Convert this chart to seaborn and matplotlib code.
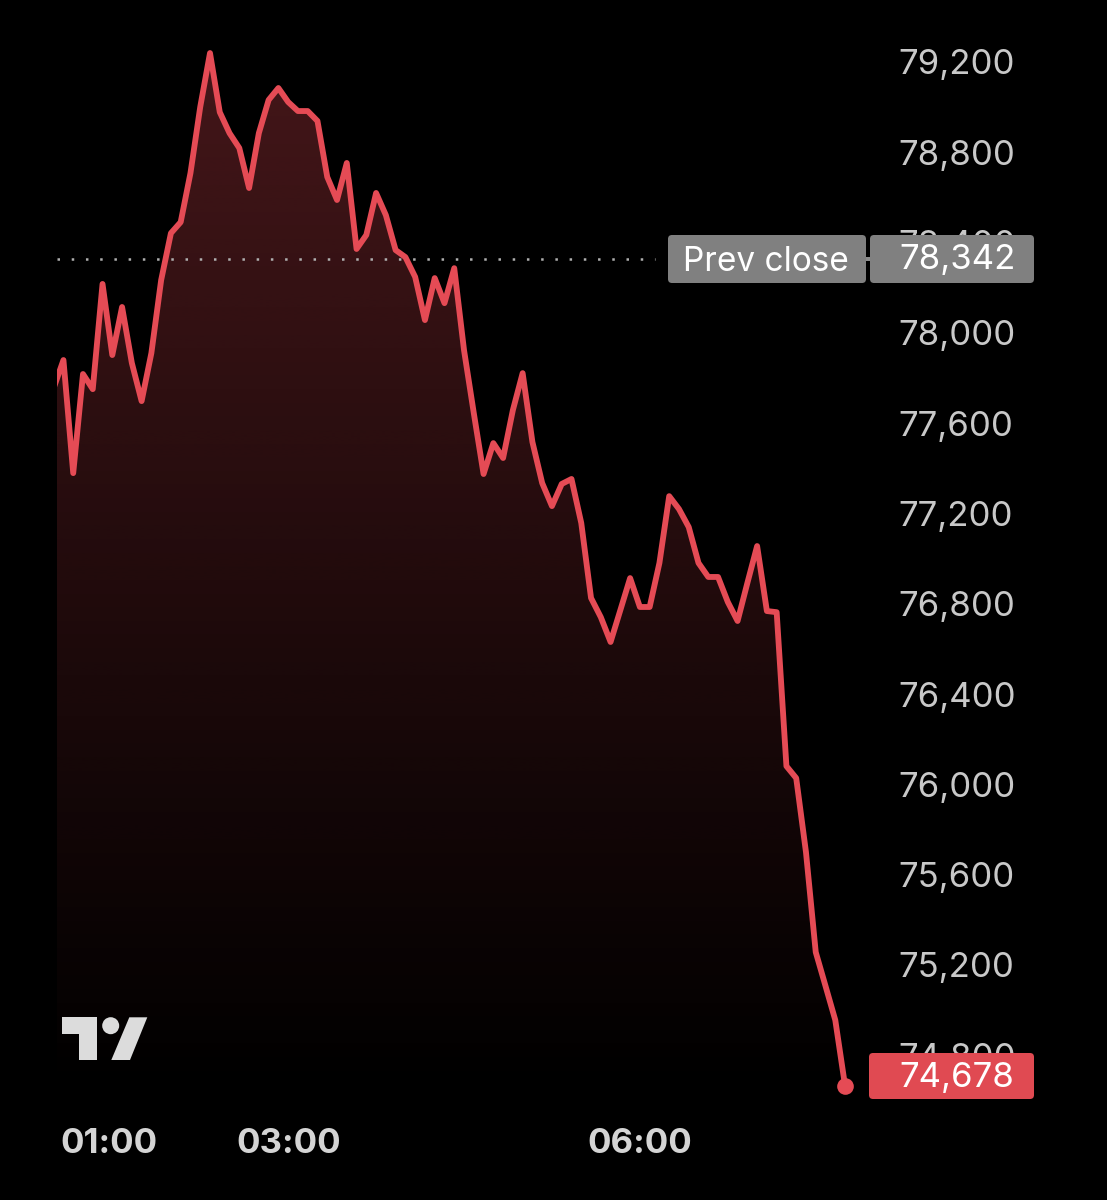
import numpy as np
import pandas as pd
import matplotlib
matplotlib.use("Agg")
import matplotlib.pyplot as plt
import seaborn as sns
from matplotlib.patches import Circle, FancyBboxPatch, Polygon, Rectangle
from matplotlib.transforms import Affine2D, ScaledTranslation

# Prices, one per bar of the session
prices = [
    77769, 77893, 77392, 77831, 77764, 78230, 77915, 78128, 77880, 77711,
    77924, 78247, 78455, 78504, 78721, 79014, 79253, 78991, 78898, 78832,
    78655, 78898, 79045, 79098, 79036, 78996, 78996, 78952, 78704, 78602,
    78766, 78385, 78447, 78633, 78535, 78380, 78349, 78261, 78070, 78256,
    78145, 78300, 77937, 77658, 77388, 77525, 77459, 77671, 77835, 77530,
    77348, 77246, 77344, 77366, 77171, 76839, 76754, 76644, 76785, 76927,
    76799, 76799, 76994, 77290, 77233, 77153, 76994, 76932, 76932, 76821,
    76737, 76905, 77069, 76781, 76776, 76094, 76041, 75713, 75270, 75120,
    74969, 74678,
]
y_ticks = [79200, 78800, 78400, 78000, 77600, 77200, 76800, 76400, 76000, 75600, 75200, 74800]
x_tick_pos = [5.66, 24.1, 60.0]
x_tick_labels = ["01:00", "03:00", "06:00"]
prev_close = 78342
last_price = 74678

RED = "#e54b55"
W, H = 1107, 1200

sns.set_style("dark", rc={"axes.facecolor": "black", "figure.facecolor": "black"})
plt.rcParams["font.family"] = ["Inter", "DejaVu Sans"]

df = pd.DataFrame({"bar": np.arange(len(prices)), "price": prices})

fig = plt.figure(figsize=(W / 100, H / 100), dpi=100)
# axes box in pixels: x 57-860, y 30-1100
ax = fig.add_axes([57 / W, 1 - 1100 / H, 803 / W, 1070 / H])
ax.set_xlim(0.34, 82.53)
ax.set_ylim(74615, 79355)

# gradient under the line, clipped to the area polygon
area = ax.fill_between(df["bar"], df["price"], 74615, color="none", lw=0)
grad = np.zeros((256, 1, 4))
grad[..., :3] = matplotlib.colors.to_rgb(RED)
grad[..., 3] = np.linspace(0.30, 0.0, 256)[:, None]
img = ax.imshow(grad, aspect="auto", origin="upper", zorder=1,
                extent=[0, 82, 74615, 79253], interpolation="bilinear")
img.set_clip_path(area.get_paths()[0], ax.transData)
ax.set_xlim(0.34, 82.53)
ax.set_ylim(74615, 79355)

# previous close dots
ax.plot([0.34, 61.5], [prev_close, prev_close], color="#b0b0b0", lw=1.8,
        linestyle=(0, (1, 4.69)), zorder=2)

sns.lineplot(data=df, x="bar", y="price", ax=ax, color=RED, lw=4.2, zorder=3,
             solid_joinstyle="round", solid_capstyle="round")
ax.plot(df["bar"].iloc[-1], df["price"].iloc[-1], "o", color=RED, ms=12, mew=0,
        zorder=4, clip_on=False)

ax.set_xlabel("")
ax.set_ylabel("")
ax.grid(False)
for s in ax.spines.values():
    s.set_visible(False)

ax.yaxis.tick_right()
ax.set_yticks(y_ticks)
ax.set_yticklabels([f"{v:,}" for v in y_ticks], fontsize=25, color="#c8c8c8")
ax.tick_params(axis="y", length=0, pad=27.5)
# labels sit a little above their true level in the original
up = ScaledTranslation(0, 3 / 100, fig.dpi_scale_trans)
for lab in ax.get_yticklabels():
    lab.set_transform(lab.get_transform() + up)

ax.set_xticks(x_tick_pos)
ax.set_xticklabels(x_tick_labels, fontsize=25, color="#d4d4d4", fontweight="bold")
ax.tick_params(axis="x", length=0, pad=20)

# pill labels and logo, placed in pixels from the top-left corner
px = Affine2D().scale(1, -1).translate(0, H)


def pill(x0, y0, x1, y1, color):
    fig.add_artist(FancyBboxPatch((x0 + 3, y0 + 3), x1 - x0 - 6, y1 - y0 - 6,
                                  boxstyle="round,pad=3,rounding_size=4", fc=color, ec="none",
                                  transform=px, zorder=5))


pill(668, 235, 866, 283, "#808080")
pill(870, 235, 1034, 283, "#808080")
# small link between the two grey pills
fig.add_artist(Rectangle((866, 257), 4, 4, fc="#8c8c8c", ec="none", transform=px, zorder=5))
pill(869, 1053, 1034, 1099, "#e04a52")

fig.text(683, 262, "Prev close", transform=px, color="white", fontsize=24,
         va="center", ha="left", zorder=6)
fig.text(899, 260, f"{prev_close:,}", transform=px, color="white", fontsize=25,
         va="center", ha="left", zorder=6)
fig.text(899, 1078, f"{last_price:,}", transform=px, color="white", fontsize=25,
         va="center", ha="left", zorder=6)

logo = "#dcdcdc"
fig.add_artist(Polygon([(62.3, 1017.3), (96.7, 1017.3), (96.7, 1060), (79.3, 1060),
                        (79.3, 1034), (62.3, 1034)], fc=logo, ec="none", transform=px, zorder=5))
fig.add_artist(Circle((110.7, 1025.7), 8.5, fc=logo, ec="none", transform=px, zorder=5))
fig.add_artist(Polygon([(129.3, 1017.3), (147.3, 1017.3), (130, 1060), (111.3, 1060)],
                       fc=logo, ec="none", transform=px, zorder=5))

fig.savefig("out.png", dpi=100, facecolor="black")
